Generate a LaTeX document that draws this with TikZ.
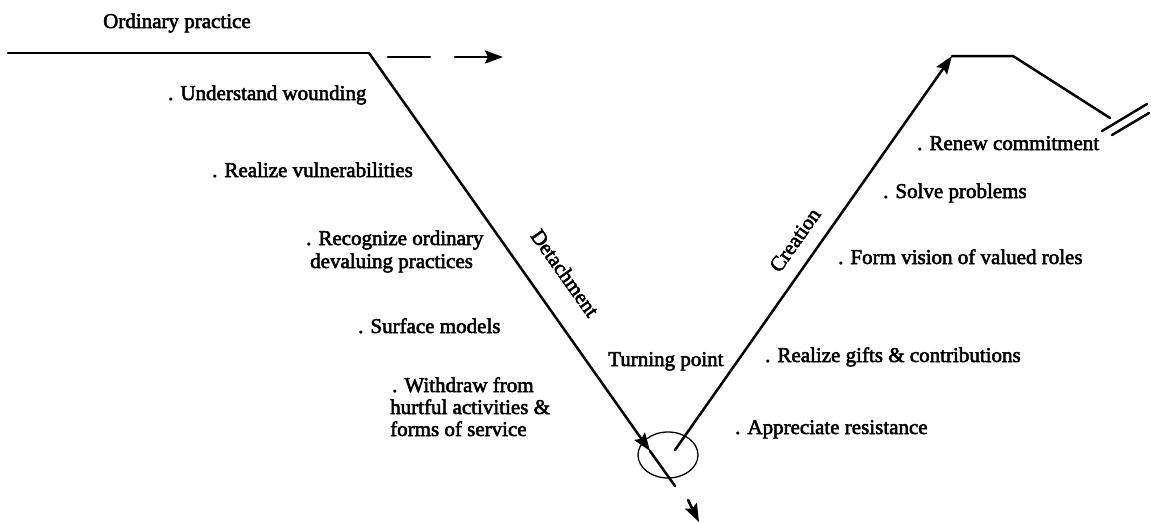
\documentclass[tikz,border=0pt]{standalone}
\usepackage{fontspec}
\font\scanfnt="Liberation Serif:embolden=2.5" at 21pt
\usetikzlibrary{arrows.meta}
\begin{document}
\begin{tikzpicture}[x=1pt,y=-1pt,
  txt/.style={font=\scanfnt, inner sep=0pt, anchor=base west},
  ln/.style={line width=2.5pt, line cap=round, line join=round},
  arr/.style={ln, -{Stealth[length=18pt,width=13pt,inset=3pt]}}]
\useasboundingbox (0,0) rectangle (1151,523);

% coordinates of the V path
\coordinate (L0) at (8,53);
\coordinate (A) at (369,53);
\coordinate (T) at (650,451);
\coordinate (E) at (675,486);
\coordinate (S) at (675,450);
\coordinate (U) at (952,56);
\coordinate (U2) at (1013,56);
\coordinate (R) at (1110,118);
\coordinate (D1a) at (1102,131);
\coordinate (D1b) at (1147,104);
\coordinate (D2a) at (1112,135);
\coordinate (D2b) at (1149,113);
\coordinate (H1a) at (388,57);
\coordinate (H1b) at (430,57);
\coordinate (H2a) at (455,57);
\coordinate (H2b) at (503,57);
\coordinate (B1) at (688,500);
\coordinate (B2) at (699,522);

% ordinary practice line and detachment
\draw[ln] (L0) -- (A);
\draw[arr] (A) -- (T);
\draw[ln] (T) -- (E);
% dashed continuation
\draw[ln] (H1a) -- (H1b);
\draw[arr] (H2a) -- (H2b);
% creation
\draw[arr] (S) -- (U);
\draw[ln] (U) -- (U2) -- (R);
\draw[ln] (D1a) -- (D1b);
\draw[ln] (D2a) -- (D2b);
% turning point circle
\draw[line width=1.3pt] (668,455) ellipse [x radius=30, y radius=23];
% small arrow below
\draw[arr] (B1) -- (B2);

% labels
\node[txt] (op) at (103,28) {Ordinary practice};
\node[txt] (l1) at (168,100) {. Understand wounding};
\node[txt] (l2) at (212,177) {. Realize vulnerabilities};
\node[txt] (l3a) at (306,245) {. Recognize ordinary};
\node[txt] (l3b) at (310,268) {devaluing practices};
\node[txt] (l4) at (358,333) {. Surface models};
\node[txt] (l5a) at (392,392) {. Withdraw from};
\node[txt] (l5b) at (390,414) {hurtful activities \&};
\node[txt] (l5c) at (390,436) {forms of service};

\node[txt, anchor=center, rotate=-54.6] (det) at (565,273) {Detachment};
\node[txt, anchor=center, rotate=54.8] (cre) at (795,240) {Creation};
\node[txt] (tp) at (608,366) {Turning point};

\node[txt] (r1) at (917,150) {. Renew commitment};
\node[txt] (r2) at (883,198) {. Solve problems};
\node[txt] (r3) at (838,264) {. Form vision of valued roles};
\node[txt] (r4) at (765,362) {. Realize gifts \& contributions};
\node[txt] (r5) at (735,434) {. Appreciate resistance};
\end{tikzpicture}
\end{document}
